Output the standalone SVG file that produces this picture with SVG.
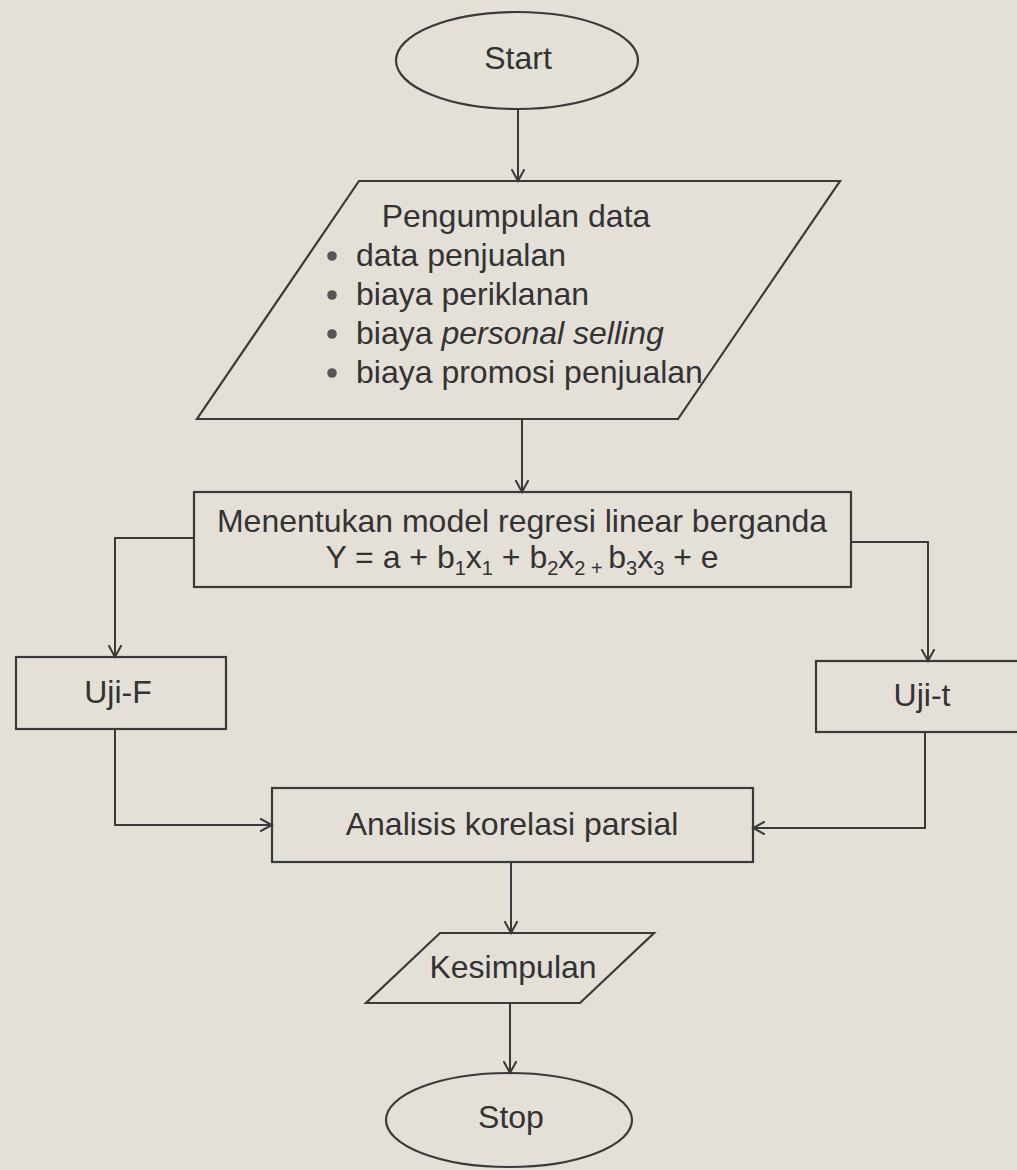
<svg xmlns="http://www.w3.org/2000/svg" width="1017" height="1170" viewBox="0 0 1017 1170">
<style>
.bg{fill:#e4e0d7}
.sh{fill:none;stroke:#3a3a3a;stroke-width:2.2}
.ln{fill:none;stroke:#3a3a3a;stroke-width:2}
.t{font-family:"Liberation Sans",Arial,sans-serif;font-size:32px;fill:#333}
.s{font-size:20px}
.b{fill:#555}
</style>
<defs>
<marker id="arr" markerWidth="14" markerHeight="14" refX="12" refY="7" orient="auto" markerUnits="userSpaceOnUse">
<path d="M0,0.5 L12,7 L0,13.5" fill="none" stroke="#3a3a3a" stroke-width="2"/>
</marker>
</defs>
<rect class="bg" x="0" y="0" width="1017" height="1170"/>

<g id="connectors">
<line class="ln" x1="518" y1="109" x2="518" y2="181" marker-end="url(#arr)"/>
<line class="ln" x1="522" y1="419" x2="522" y2="492" marker-end="url(#arr)"/>
<polyline class="ln" points="194,538 115,538 115,657" marker-end="url(#arr)"/>
<polyline class="ln" points="851,542 928,542 928,661" marker-end="url(#arr)"/>
<polyline class="ln" points="115,729 115,825 272,825" marker-end="url(#arr)"/>
<polyline class="ln" points="925,732 925,828 753,828" marker-end="url(#arr)"/>
<line class="ln" x1="511" y1="862" x2="511" y2="933" marker-end="url(#arr)"/>
<line class="ln" x1="510" y1="1003" x2="510" y2="1073" marker-end="url(#arr)"/>
</g>

<g id="start">
<ellipse class="sh" cx="517" cy="60.5" rx="121" ry="48.5"/>
<text class="t" x="518" y="69" text-anchor="middle">Start</text>
</g>

<g id="pengumpulan">
<polygon class="sh" points="359,181 840,181 678,419 197,419"/>
<text class="t" x="516" y="227" text-anchor="middle">Pengumpulan data</text>
<circle class="b" cx="332" cy="256" r="4.8"/>
<text class="t" x="356" y="266">data penjualan</text>
<circle class="b" cx="332" cy="295" r="4.8"/>
<text class="t" x="356" y="305">biaya periklanan</text>
<circle class="b" cx="332" cy="334" r="4.8"/>
<text class="t" x="356" y="344">biaya <tspan font-style="italic">personal selling</tspan></text>
<circle class="b" cx="332" cy="373" r="4.8"/>
<text class="t" x="356" y="383">biaya promosi penjualan</text>
</g>

<g id="model">
<rect class="sh" x="194" y="492" width="657" height="95"/>
<text class="t" x="522" y="532" text-anchor="middle">Menentukan model regresi linear berganda</text>
<text class="t" x="522" y="568" text-anchor="middle">Y = a + b<tspan class="s" dy="7">1</tspan><tspan dy="-7">x</tspan><tspan class="s" dy="7">1</tspan><tspan dy="-7"> + b</tspan><tspan class="s" dy="7">2</tspan><tspan dy="-7">x</tspan><tspan class="s" dy="7">2 + </tspan><tspan dy="-7">b</tspan><tspan class="s" dy="7">3</tspan><tspan dy="-7">x</tspan><tspan class="s" dy="7">3</tspan><tspan dy="-7"> + e</tspan></text>
</g>

<g id="ujiF">
<rect class="sh" x="16" y="657" width="210" height="72"/>
<text class="t" x="118" y="703" text-anchor="middle">Uji-F</text>
</g>

<g id="ujiT">
<rect class="sh" x="816" y="661" width="214" height="71"/>
<text class="t" x="922" y="706" text-anchor="middle">Uji-t</text>
</g>

<g id="analisis">
<rect class="sh" x="272" y="788" width="481" height="74"/>
<text class="t" x="512" y="835" text-anchor="middle">Analisis korelasi parsial</text>
</g>

<g id="kesimpulan">
<polygon class="sh" points="440,933 654,933 580,1003 366,1003"/>
<text class="t" x="513" y="978" text-anchor="middle">Kesimpulan</text>
</g>

<g id="stop">
<ellipse class="sh" cx="509" cy="1120" rx="123" ry="47"/>
<text class="t" x="511" y="1128" text-anchor="middle">Stop</text>
</g>
</svg>
